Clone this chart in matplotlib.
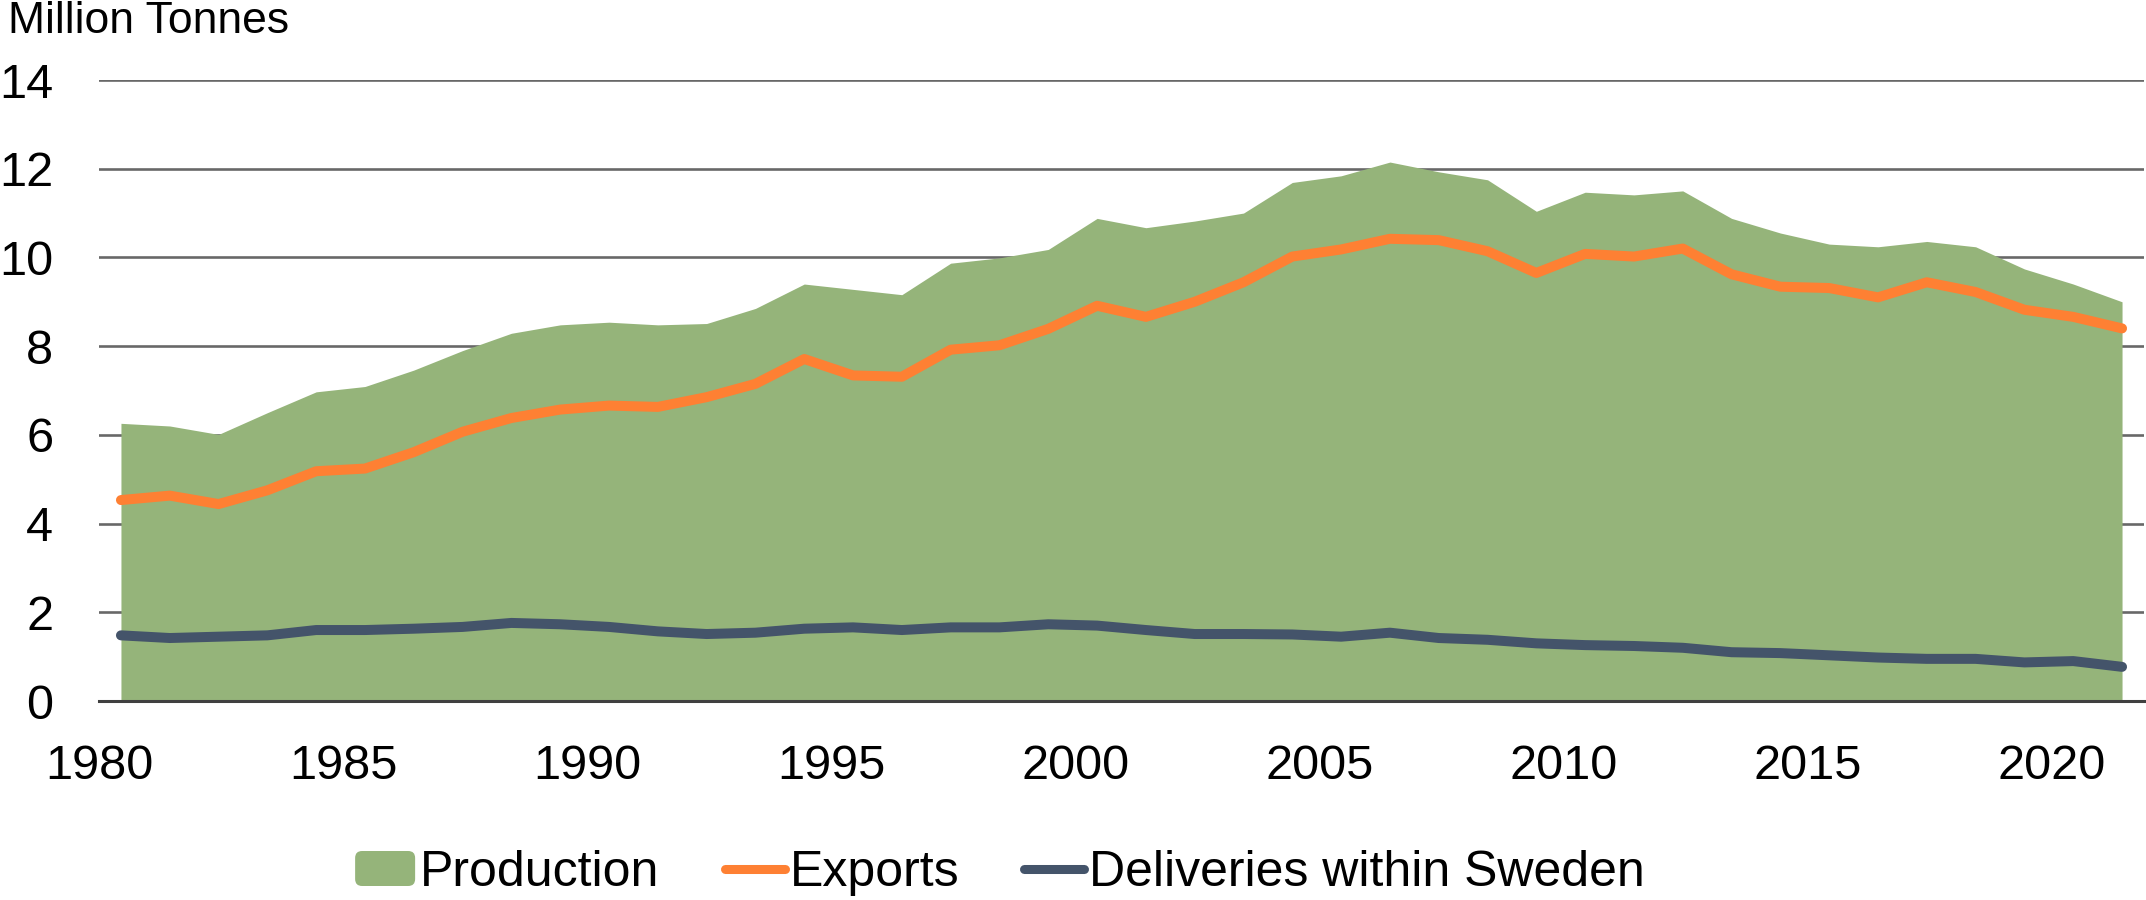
import numpy as np
import matplotlib
matplotlib.use("Agg")
import matplotlib.pyplot as plt
from matplotlib.patches import FancyBboxPatch, Patch
from matplotlib.lines import Line2D
from matplotlib.legend_handler import HandlerPatch

# ------------------------------------------------
# Data (million tonnes), 1980-2021
# ------------------------------------------------
years = np.arange(1980, 2022)

production = [6.26, 6.20, 6.01, 6.50, 6.97, 7.09, 7.46, 7.90, 8.29, 8.48,
              8.54, 8.48, 8.51, 8.85, 9.40, 9.28, 9.16, 9.87, 9.99, 10.18,
              10.88, 10.67, 10.82, 11.00, 11.69, 11.84, 12.15, 11.93, 11.75, 11.04,
              11.47, 11.41, 11.50, 10.88, 10.55, 10.30, 10.24, 10.36, 10.24, 9.74,
              9.40, 9.00]

exports = [4.53, 4.63, 4.44, 4.75, 5.18, 5.24, 5.61, 6.07, 6.38, 6.57,
           6.66, 6.63, 6.85, 7.15, 7.71, 7.34, 7.31, 7.92, 8.02, 8.39,
           8.91, 8.66, 9.00, 9.44, 10.02, 10.18, 10.42, 10.39, 10.14, 9.65,
           10.08, 10.02, 10.20, 9.62, 9.34, 9.31, 9.10, 9.44, 9.22, 8.82,
           8.66, 8.40]

deliveries = [1.48, 1.42, 1.45, 1.48, 1.60, 1.60, 1.63, 1.67, 1.76, 1.73,
              1.67, 1.57, 1.51, 1.54, 1.63, 1.66, 1.60, 1.66, 1.66, 1.73,
              1.70, 1.60, 1.51, 1.51, 1.50, 1.45, 1.54, 1.42, 1.38, 1.30,
              1.26, 1.24, 1.20, 1.10, 1.08, 1.03, 0.98, 0.95, 0.95, 0.87,
              0.90, 0.77]

tick_years = [1980, 1985, 1990, 1995, 2000, 2005, 2010, 2015, 2020]
y_ticks = [0, 2, 4, 6, 8, 10, 12, 14]

green = "#95B47A"
orange = "#FE8033"
navy = "#44546A"

plt.rcParams['font.family'] = ['Liberation Sans', 'DejaVu Sans']

# points sit in the middle of each year slot
x = years + 0.45

fig = plt.figure(figsize=(21.46, 9), dpi=100)
ax = fig.add_axes([0.04613, 0.22111, 0.95294, 0.69])

ax.fill_between(x, production, 0, color=green, linewidth=0, zorder=2)
ax.plot(x, exports, color=orange, lw=7.2, solid_capstyle='round',
        solid_joinstyle='round', zorder=3)
ax.plot(x, deliveries, color=navy, lw=7.2, solid_capstyle='round',
        solid_joinstyle='round', zorder=3)

ax.set_xlim(1980.04, 2021.90)
ax.set_ylim(0, 14)
ax.set_yticks(y_ticks)
ax.set_xticks(tick_years)
ax.set_xticklabels([str(t) for t in tick_years])

ax.yaxis.grid(True, color="#686868", lw=1.9, zorder=1)
ax.set_axisbelow(True)
for s in ['left', 'right', 'top']:
    ax.spines[s].set_visible(False)
ax.spines['bottom'].set_color("#404040")
ax.spines['bottom'].set_linewidth(2.2)
ax.spines['bottom'].set_zorder(4)

ax.tick_params(axis='y', length=0, pad=33, labelsize=35)
ax.tick_params(axis='x', length=0, pad=31, labelsize=35)

fig.text(8 / 2146, 1 - 1 / 900, "Million Tonnes", fontsize=32,
         ha='left', va='top')


def rounded_patch(legend, orig_handle, xdescent, ydescent, width, height, fontsize):
    return FancyBboxPatch((-xdescent, -ydescent), width, height,
                          boxstyle="round,pad=0,rounding_size=5",
                          facecolor=green, edgecolor='none')


handles = [Patch(facecolor=green, edgecolor='none'),
           Line2D([0], [0], color=orange, lw=6.5, solid_capstyle='round'),
           Line2D([0], [0], color=navy, lw=6.5, solid_capstyle='round')]
labels = ["Production", "Exports", "Deliveries within Sweden"]

fig.legend(handles, labels, loc='center', ncol=3, frameon=False,
           bbox_to_anchor=(1000 / 2146, 1 - 873 / 900), fontsize=36,
           handlelength=1.2, handleheight=0.7, handletextpad=0.1,
           columnspacing=1.3, borderaxespad=0,
           handler_map={Patch: HandlerPatch(patch_func=rounded_patch)})

fig.savefig("out.png", dpi=100)
